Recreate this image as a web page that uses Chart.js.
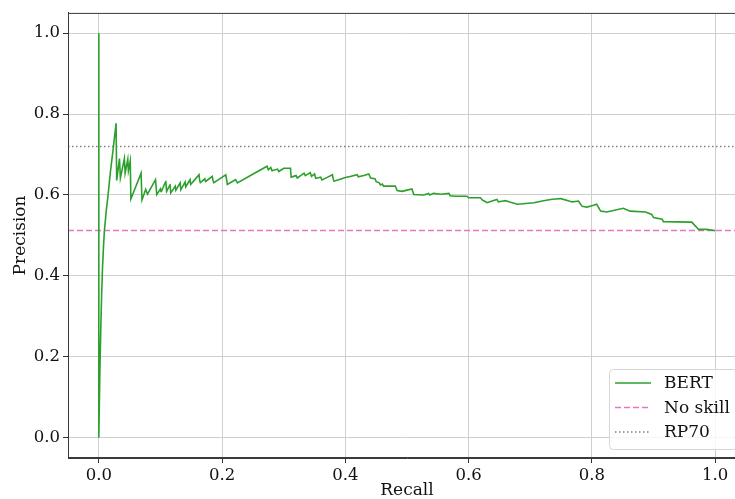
<!DOCTYPE html>
<html>
<head>
<meta charset="utf-8">
<script src="https://cdn.jsdelivr.net/npm/chart.js@4.4.1/dist/chart.umd.min.js"></script>
<style>
    body { margin: 0; background: #fff; }
    #wrap { width: 735px; height: 499px; overflow: hidden; }
</style>
</head>
<body>
<div id="wrap"><canvas id="pr-chart" width="760" height="499"></canvas></div>
<script>
// ==============================================================
// data
// ==============================================================
const recall = [
    0, 0, 0.0005, 0.001, 0.0017, 0.0025, 0.0035, 0.0045, 0.006, 0.0075, 0.009,
    0.012, 0.015, 0.019, 0.023, 0.028,
    0.029, 0.0335, 0.035, 0.0415, 0.0427, 0.047, 0.048, 0.051, 0.052,
    0.0686, 0.07, 0.074, 0.076, 0.079, 0.092, 0.094, 0.1, 0.101, 0.1086, 0.11,
    0.1156, 0.1167, 0.124, 0.125, 0.132, 0.133, 0.14, 0.141, 0.148, 0.149,
    0.1626, 0.164, 0.172, 0.173, 0.184, 0.186, 0.206, 0.2086, 0.222, 0.2248,
    0.273, 0.275, 0.279, 0.281, 0.29, 0.292, 0.30, 0.311, 0.312, 0.32, 0.322,
    0.333, 0.335, 0.343, 0.345, 0.35, 0.352, 0.36, 0.362, 0.379, 0.381, 0.40,
    0.419, 0.421, 0.43, 0.438, 0.441, 0.448, 0.45, 0.455, 0.457, 0.46, 0.462,
    0.481, 0.484, 0.492, 0.508, 0.511, 0.527, 0.535, 0.537, 0.543, 0.555,
    0.568, 0.57, 0.579, 0.597, 0.60, 0.619, 0.622, 0.63, 0.646, 0.648, 0.66,
    0.668, 0.679, 0.706, 0.733, 0.749, 0.768, 0.778, 0.784, 0.792, 0.808,
    0.814, 0.824, 0.851, 0.862, 0.887, 0.897, 0.90, 0.914, 0.916, 0.962,
    0.968, 0.973, 0.986, 1.0
];
const precision = [
    1.0, 0.0, 0.05, 0.1, 0.16, 0.22, 0.29, 0.35, 0.42, 0.47, 0.51,
    0.56, 0.6, 0.66, 0.71, 0.777,
    0.636, 0.69, 0.642, 0.69, 0.654, 0.688, 0.66, 0.684, 0.59,
    0.654, 0.588, 0.605, 0.614, 0.602, 0.638, 0.601, 0.615, 0.607, 0.634, 0.609,
    0.626, 0.605, 0.622, 0.612, 0.63, 0.613, 0.632, 0.62, 0.638, 0.626,
    0.650, 0.63, 0.64, 0.633, 0.646, 0.630, 0.650, 0.626, 0.638, 0.630,
    0.671, 0.662, 0.668, 0.66, 0.664, 0.658, 0.666, 0.666, 0.644, 0.648, 0.642,
    0.654, 0.648, 0.655, 0.646, 0.652, 0.641, 0.644, 0.637, 0.650, 0.634, 0.643,
    0.650, 0.645, 0.648, 0.652, 0.642, 0.64, 0.633, 0.63, 0.625, 0.627, 0.622,
    0.622, 0.611, 0.609, 0.615, 0.601, 0.600, 0.604, 0.600, 0.604, 0.602,
    0.604, 0.598, 0.597, 0.597, 0.593, 0.593, 0.588, 0.581, 0.589, 0.583, 0.586,
    0.582, 0.577, 0.581, 0.589, 0.591, 0.583, 0.585, 0.572, 0.57, 0.577,
    0.560, 0.558, 0.567, 0.560, 0.558, 0.552, 0.544, 0.540, 0.534, 0.533,
    0.523, 0.515, 0.515, 0.512
];
const noSkill = 0.512;
const rp70 = 0.72;
const xRange = [-0.05, 1.05];
const yRange = [-0.05, 1.05];
const tickValues = [0, 0.2, 0.4, 0.6, 0.8, 1.0];
const seriesLabels = ['BERT', 'No skill', 'RP70'];

const FONT = "'DejaVu Serif', 'Liberation Serif', serif";

let bertPoints = recall.map((r, i) => ({ x: r, y: precision[i] }));

// frame + matplotlib style legend box in the lower right
const framePlugin = {
    id: 'frame',
    afterDraw(chart) {
        const { ctx, chartArea: a } = chart;
        ctx.save();
        ctx.strokeStyle = '#3a3a3a';
        ctx.lineWidth = 1;
        ctx.strokeRect(a.left + 0.5, a.top + 0.5, a.right - a.left - 1, a.bottom - a.top - 1);

        // legend
        let lx = 609, ly = 369, lw = 128, lh = 80;
        ctx.fillStyle = 'rgba(255,255,255,0.8)';
        ctx.strokeStyle = '#d6d6d6';
        ctx.beginPath();
        ctx.roundRect(lx + 0.5, ly + 0.5, lw, lh, 4);
        ctx.fill();
        ctx.stroke();
        ctx.font = '17px ' + FONT;
        ctx.textBaseline = 'middle';
        chart.data.datasets.forEach((ds, i) => {
            let y = 383 + i * 24.5;
            ctx.strokeStyle = ds.borderColor;
            ctx.lineWidth = ds.borderWidth;
            ctx.setLineDash(ds.borderDash || []);
            ctx.beginPath();
            ctx.moveTo(615, y);
            ctx.lineTo(651, y);
            ctx.stroke();
            ctx.setLineDash([]);
            ctx.fillStyle = '#111';
            ctx.fillText(ds.label, 664, y + 1);
        });
        ctx.restore();
    }
};

let ctx = document.getElementById('pr-chart').getContext('2d');
let config = {
    type: 'scatter',
    data: {
        datasets: [{
            label: seriesLabels[0],
            data: bertPoints,
            showLine: true,
            borderColor: '#2ca02c',
            borderWidth: 1.6,
            pointRadius: 0,
            // tiny tension so chart.js skips its fast path (it merges points in the same pixel column)
            tension: 0.000001
        }, {
            label: seriesLabels[1],
            data: [{ x: xRange[0], y: noSkill }, { x: xRange[1], y: noSkill }],
            showLine: true,
            borderColor: '#e377c2',
            borderWidth: 1.5,
            borderDash: [6, 3],
            pointRadius: 0
        }, {
            label: seriesLabels[2],
            data: [{ x: xRange[0], y: rp70 }, { x: xRange[1], y: rp70 }],
            showLine: true,
            borderColor: '#7f7f7f',
            borderWidth: 1.4,
            borderDash: [1.5, 2.5],
            pointRadius: 0
        }]
    },
    options: {
        responsive: false,
        animation: false,
        layout: {
            padding: { top: 11, right: 14, left: 0, bottom: 0 }
        },
        plugins: {
            legend: { display: false },
            tooltip: { enabled: false }
        },
        scales: {
            x: {
                type: 'linear',
                min: xRange[0],
                max: xRange[1],
                afterFit: (s) => { s.height = 41; },
                afterBuildTicks: (s) => { s.ticks = tickValues.map(v => ({ value: v })); },
                grid: { color: '#cfcfcf', tickColor: '#333', tickLength: 5 },
                border: { color: '#3a3a3a' },
                ticks: {
                    color: '#111',
                    padding: 3,
                    maxRotation: 0,
                    font: { family: FONT, size: 16.5 },
                    callback: (v) => v.toFixed(1)
                },
                title: {
                    display: true,
                    text: 'Recall',
                    color: '#111',
                    padding: { top: 0, bottom: 0 },
                    font: { family: FONT, size: 17, lineHeight: 1 }
                }
            },
            y: {
                type: 'linear',
                min: yRange[0],
                max: yRange[1],
                afterFit: (s) => { s.width = 68; },
                afterBuildTicks: (s) => { s.ticks = tickValues.map(v => ({ value: v })); },
                grid: { color: '#cfcfcf', tickColor: '#333', tickLength: 5 },
                border: { color: '#3a3a3a' },
                ticks: {
                    color: '#111',
                    padding: 3,
                    font: { family: FONT, size: 16.5 },
                    callback: (v) => v.toFixed(1)
                },
                title: {
                    display: true,
                    text: 'Precision',
                    color: '#111',
                    padding: { top: 12, bottom: 0 },
                    font: { family: FONT, size: 17, lineHeight: 1 }
                }
            }
        }
    },
    plugins: [framePlugin]
};
new Chart(ctx, config);
</script>
</body>
</html>
